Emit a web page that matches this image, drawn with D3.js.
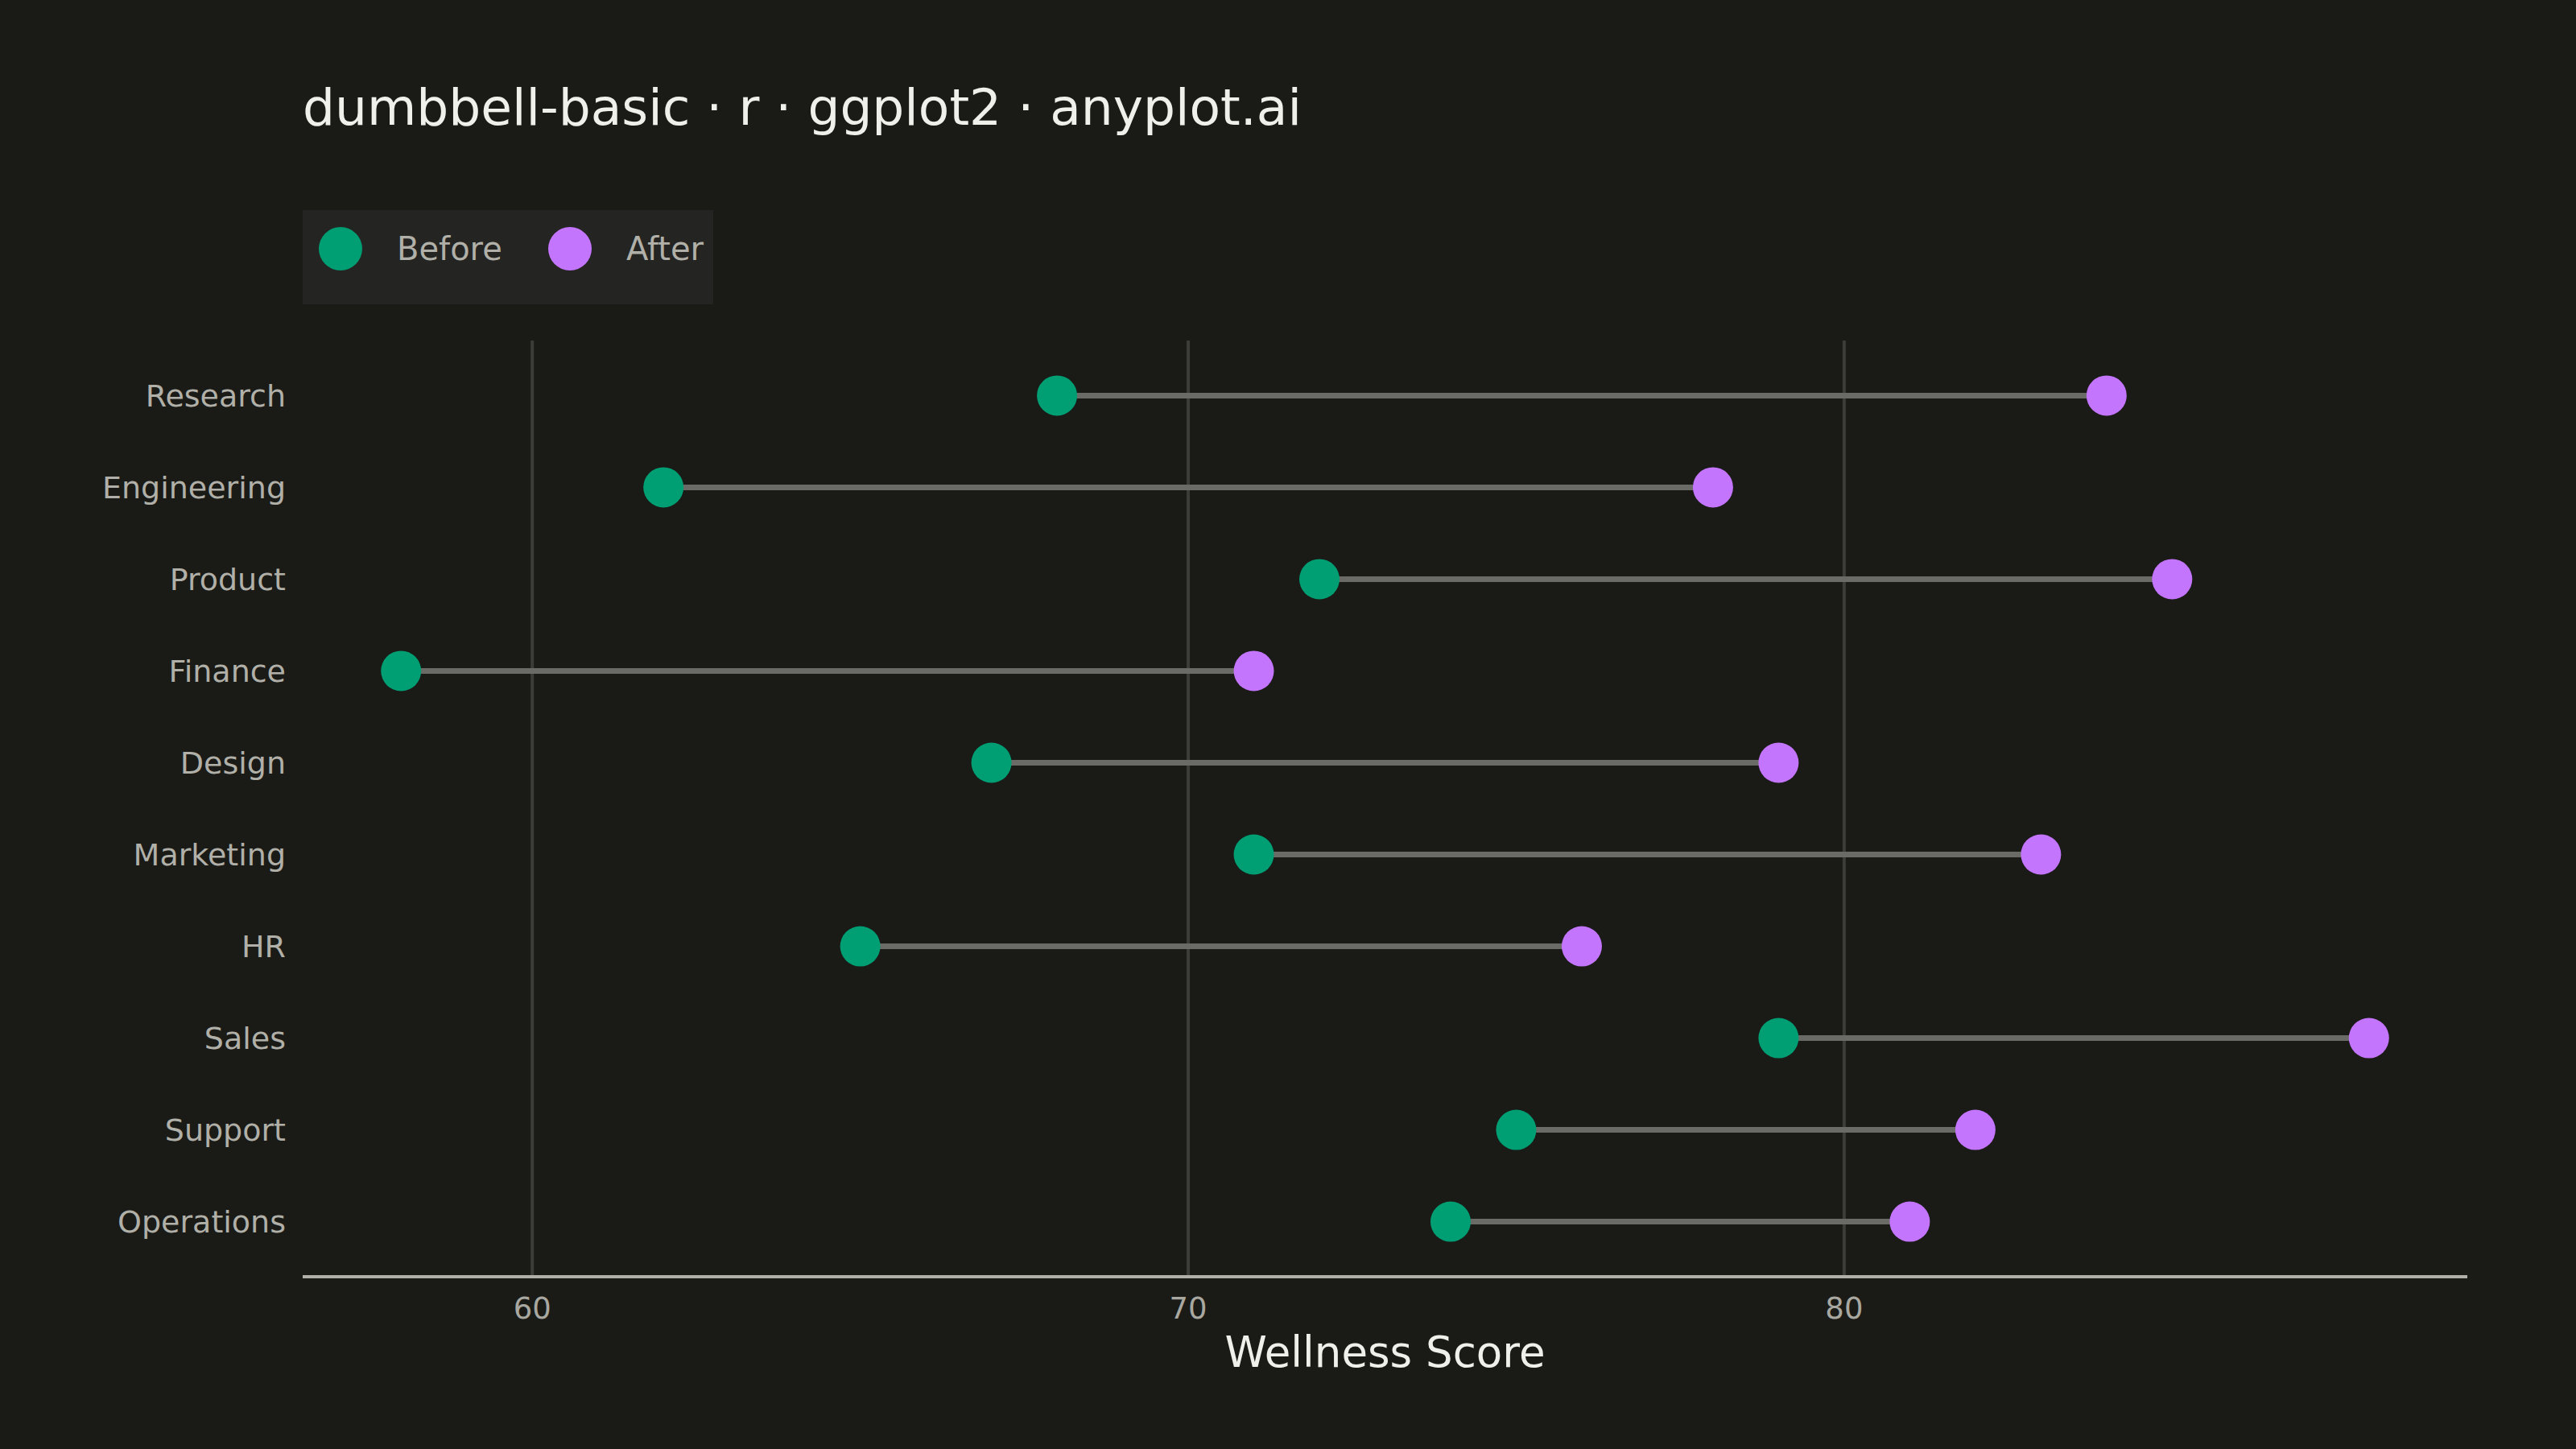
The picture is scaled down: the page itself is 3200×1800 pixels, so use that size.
<!DOCTYPE html>
<html><head><meta charset="utf-8">
<script src="https://cdn.jsdelivr.net/npm/d3@7"></script>
<style>body{margin:0;background:#1a1a17}</style></head>
<body><svg id="c" width="3200" height="1800"></svg>
<script>
const categories=["Research","Engineering","Product","Finance","Design","Marketing","HR","Sales","Support","Operations"];
const before=[68,62,72,58,67,71,65,79,75,74];
const after=[84,78,85,71,79,83,76,88,82,81];
const ticks=[60,70,80];
const colBefore="#009E73", colAfter="#C475FD";
const font="'DejaVu Sans', sans-serif";
const svg=d3.select("#c");
svg.append("rect").attr("width",3200).attr("height",1800).attr("fill","#1a1a17");
const L=376,R=3065,T=423,B=1586;
const x=d3.scaleLinear().domain([56.5,89.5]).range([L,R]);
const y=d3.scalePoint().domain(categories).range([T,B]).padding(0.6);
const g=svg.append("g");
g.selectAll(".grid").data(ticks).join("line").attr("x1",d=>x(d)).attr("x2",d=>x(d)).attr("y1",T).attr("y2",B)
 .attr("stroke","#3c3c38").attr("stroke-width",4);
g.append("line").attr("x1",L).attr("x2",R).attr("y1",B).attr("y2",B).attr("stroke","#b0b0a8").attr("stroke-width",4);
g.selectAll(".tl").data(ticks).join("text").attr("x",d=>x(d)).attr("y",B+52).attr("text-anchor","middle")
 .attr("font-family",font).attr("font-size",37).attr("fill","#a8a8a0").text(d=>d);
g.selectAll(".cl").data(categories).join("text").attr("x",355).attr("y",d=>y(d)).attr("dy","0.35em").attr("text-anchor","end")
 .attr("font-family",font).attr("font-size",38).attr("fill","#b0b0a8").text(d=>d);
g.selectAll(".seg").data(categories).join("line").attr("x1",(d,i)=>x(before[i])).attr("x2",(d,i)=>x(after[i]))
 .attr("y1",d=>y(d)).attr("y2",d=>y(d)).attr("stroke","#6a6a66").attr("stroke-width",7);
g.selectAll(".pb").data(categories).join("circle").attr("cx",(d,i)=>x(before[i])).attr("cy",d=>y(d)).attr("r",25).attr("fill",colBefore);
g.selectAll(".pa").data(categories).join("circle").attr("cx",(d,i)=>x(after[i])).attr("cy",d=>y(d)).attr("r",25).attr("fill",colAfter);
svg.append("text").attr("x",(L+R)/2).attr("y",1698).attr("text-anchor","middle").attr("font-family",font).attr("font-size",53).attr("fill","#f0f0ea").text("Wellness Score");
svg.append("text").attr("x",376).attr("y",155).attr("font-family",font).attr("font-size",63).attr("fill","#f0f0ea").text("dumbbell-basic · r · ggplot2 · anyplot.ai");
svg.append("rect").attr("x",376).attr("y",261).attr("width",510).attr("height",117).attr("fill","#242422");
svg.append("circle").attr("cx",423).attr("cy",309).attr("r",27).attr("fill",colBefore);
svg.append("text").attr("x",493).attr("y",309).attr("dy","0.35em").attr("font-family",font).attr("font-size",40).attr("fill","#b0b0a8").text("Before");
svg.append("circle").attr("cx",708).attr("cy",309).attr("r",27).attr("fill",colAfter);
svg.append("text").attr("x",778).attr("y",309).attr("dy","0.35em").attr("font-family",font).attr("font-size",40).attr("fill","#b0b0a8").text("After");
</script></body></html>
